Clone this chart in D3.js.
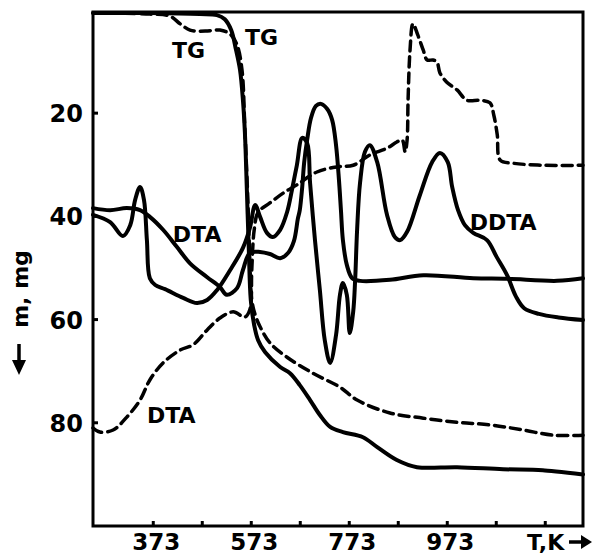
<!DOCTYPE html>
<html>
<head>
<meta charset="utf-8">
<script src="https://cdn.jsdelivr.net/npm/d3@7"></script>
<style>
  body { margin: 0; background: #fff; }
  text { font-family: "DejaVu Sans", sans-serif; font-weight: bold; fill: #000; }
</style>
</head>
<body>
<div class="chart"></div>
<script>
// traces: temperature (K) and reading on the m, mg axis
const tgSolidT = [250, 366, 468, 503, 519, 532, 542, 550, 556, 560, 564, 568, 572, 579, 587, 601, 632, 652, 672, 693, 713, 734, 760, 801, 830, 870, 911, 993, 1087, 1168, 1250];
const tgSolidM = [0.6, 0.6, 0.8, 1.0, 1.8, 3.9, 7.8, 11.6, 17.5, 23.8, 34.9, 46.5, 56.2, 61.1, 64.0, 66.3, 69.2, 70.4, 72.7, 75.6, 78.5, 80.8, 81.8, 82.8, 84.7, 87.2, 88.6, 88.6, 89.0, 89.2, 90.0];

const tgDashT = [250, 366, 407, 428, 448, 479, 509, 530, 544, 554, 560, 566, 570, 574, 581, 591, 611, 646, 699, 754, 789, 856, 924, 993, 1060, 1128, 1189, 1250];
const tgDashM = [0.6, 0.8, 1.2, 2.7, 3.9, 4.1, 3.9, 4.7, 6.8, 11.6, 23.3, 36.8, 48.5, 56.2, 59.1, 61.4, 64.5, 67.3, 70.4, 73.1, 75.6, 78.1, 79.1, 79.9, 80.4, 81.4, 82.4, 82.4];

const dtaDashT = [250, 264, 291, 319, 346, 366, 393, 428, 454, 483, 509, 536, 560, 570, 574, 579, 587, 611, 638, 666, 707, 748, 781, 815, 850, 870, 881, 887, 891, 893, 897, 903, 913, 924, 932, 944, 952, 958, 972, 993, 1013, 1040, 1060, 1068, 1075, 1081, 1107, 1168, 1250];
const dtaDashM = [81.0, 81.8, 81.4, 78.9, 75.6, 71.7, 68.4, 65.9, 64.9, 62.0, 59.7, 58.5, 59.5, 58.1, 50.4, 42.6, 39.2, 37.4, 35.5, 33.9, 31.4, 30.4, 30.1, 28.1, 26.8, 25.6, 25.2, 27.5, 25.2, 17.5, 7.8, 2.7, 4.9, 7.8, 9.7, 9.7, 10.1, 12.2, 14.0, 15.5, 17.5, 17.5, 18.0, 20.4, 24.2, 29.1, 29.7, 30.1, 30.1];

const dtaT = [250, 285, 319, 346, 366, 393, 421, 448, 483, 509, 523, 544, 556, 570, 591, 611, 632, 648, 660, 668, 672, 677, 681, 687, 695, 705, 715, 728, 738, 746, 752, 756, 760, 768, 779, 795, 856, 924, 1026, 1095, 1197, 1250];
const dtaM = [38.4, 38.8, 38.4, 38.8, 40.1, 42.6, 45.9, 49.1, 51.8, 53.7, 55.2, 53.9, 50.4, 47.1, 46.9, 47.3, 48.1, 47.1, 44.8, 40.5, 38.8, 34.3, 29.5, 25.2, 20.9, 18.6, 18.2, 19.2, 21.3, 26.2, 33.0, 38.8, 44.6, 49.4, 52.0, 52.5, 52.3, 51.4, 52.0, 52.1, 52.5, 52.0];

const ddtaT = [250, 285, 311, 326, 336, 346, 354, 360, 366, 377, 397, 434, 462, 483, 503, 530, 556, 570, 581, 591, 605, 617, 632, 646, 656, 666, 677, 687, 693, 703, 713, 723, 734, 746, 754, 760, 768, 774, 781, 785, 789, 795, 805, 815, 830, 850, 866, 877, 891, 917, 942, 958, 974, 983, 995, 1009, 1026, 1054, 1074, 1095, 1113, 1130, 1160, 1200, 1250];
const ddtaM = [39.7, 41.1, 43.8, 41.7, 36.8, 34.3, 36.8, 44.6, 52.0, 53.3, 54.1, 55.8, 56.8, 56.2, 54.3, 50.4, 46.1, 42.3, 37.8, 40.1, 43.2, 44.0, 42.6, 39.2, 34.9, 30.1, 24.8, 25.8, 33.5, 44.6, 54.3, 64.0, 68.4, 63.0, 55.2, 52.9, 55.2, 62.6, 58.5, 52.3, 42.6, 33.5, 27.5, 26.2, 29.5, 39.7, 44.0, 44.6, 43.0, 35.9, 29.5, 27.7, 29.5, 34.3, 38.8, 41.7, 43.2, 44.6, 47.9, 51.4, 55.5, 57.8, 58.9, 59.6, 60.1];

const xTicks = [373, 473, 573, 673, 773, 873, 973, 1073, 1173];
const xLabels = [373, 573, 773, 973];
const yTicks = [20, 40, 60, 80];

const width = 593, height = 555;

const svg = d3.select(".chart")
  .append("svg")
  .attr("width", width)
  .attr("height", height);

const x = d3.scaleLinear().domain([250, 1250]).range([93, 583]);
const y = d3.scaleLinear().domain([0.4, 100]).range([12, 526]);

const zip = (ts, ms) => ts.map((t, i) => [t, ms[i]]);

const line = d3.line()
  .x(d => x(d[0]))
  .y(d => y(d[1]))
  .curve(d3.curveCatmullRom.alpha(0.5));

const traces = [
  { pts: zip(tgDashT, tgDashM), dash: true },
  { pts: zip(dtaDashT, dtaDashM), dash: true },
  { pts: zip(dtaT, dtaM), dash: false },
  { pts: zip(ddtaT, ddtaM), dash: false },
  { pts: zip(tgSolidT, tgSolidM), dash: false }
];

svg.selectAll("path.trace")
  .data(traces)
  .enter()
  .append("path")
  .attr("class", "trace")
  .attr("d", d => line(d.pts))
  .attr("fill", "none")
  .attr("stroke", "#000")
  .attr("stroke-width", d => d.dash ? 3.5 : 4)
  .attr("stroke-linecap", "round")
  .attr("stroke-linejoin", "round")
  .attr("stroke-dasharray", d => d.dash ? "10,6" : null);

// frame
const [x0, x1] = x.range(), [y0, y1] = y.range();
svg.append("path")
  .attr("d", `M${x0},${y0}H${x1}V${y1}H${x0}Z`)
  .attr("fill", "none")
  .attr("stroke", "#000")
  .attr("stroke-width", 3);

// ticks point inward
svg.selectAll("line.xt")
  .data(xTicks)
  .enter()
  .append("line")
  .attr("x1", d => x(d)).attr("x2", d => x(d))
  .attr("y1", y1).attr("y2", y1 - 5)
  .attr("stroke", "#000").attr("stroke-width", 3);

svg.selectAll("line.yt")
  .data(yTicks)
  .enter()
  .append("line")
  .attr("x1", x0).attr("x2", x0 + 5)
  .attr("y1", d => y(d)).attr("y2", d => y(d))
  .attr("stroke", "#000").attr("stroke-width", 3);

svg.selectAll("text.xl")
  .data(xLabels)
  .enter()
  .append("text")
  .attr("x", d => x(d) + 3)
  .attr("y", 550)
  .attr("text-anchor", "middle")
  .attr("font-size", 23)
  .text(d => d);

svg.selectAll("text.yl")
  .data(yTicks)
  .enter()
  .append("text")
  .attr("x", 83)
  .attr("y", d => y(d) + 9)
  .attr("text-anchor", "end")
  .attr("font-size", 24)
  .text(d => d);

// curve labels
const notes = [
  { t: 411, m: 9.3, s: "TG" },
  { t: 560, m: 6.8, s: "TG" },
  { t: 413, m: 45.0, s: "DTA" },
  { t: 360, m: 80.1, s: "DTA" },
  { t: 1019, m: 42.6, s: "DDTA" }
];
svg.selectAll("text.note")
  .data(notes)
  .enter()
  .append("text")
  .attr("x", d => x(d.t))
  .attr("y", d => y(d.m))
  .attr("font-size", 22)
  .text(d => d.s);

// axis titles
svg.append("text")
  .attr("transform", "translate(28,289) rotate(-90)")
  .attr("text-anchor", "middle")
  .attr("font-size", 22)
  .text("m, mg");

svg.append("line")
  .attr("x1", 19).attr("x2", 19).attr("y1", 344).attr("y2", 364)
  .attr("stroke", "#000").attr("stroke-width", 3.5);
svg.append("path")
  .attr("d", "M12,360L26,360L19,375Z")
  .attr("fill", "#000");

svg.append("text")
  .attr("x", 527)
  .attr("y", 550)
  .attr("font-size", 22)
  .text("T,K");
svg.append("line")
  .attr("x1", 569).attr("x2", 584).attr("y1", 542).attr("y2", 542)
  .attr("stroke", "#000").attr("stroke-width", 3.5);
svg.append("path")
  .attr("d", "M581,535L592,542L581,549Z")
  .attr("fill", "#000");
</script>
</body>
</html>
